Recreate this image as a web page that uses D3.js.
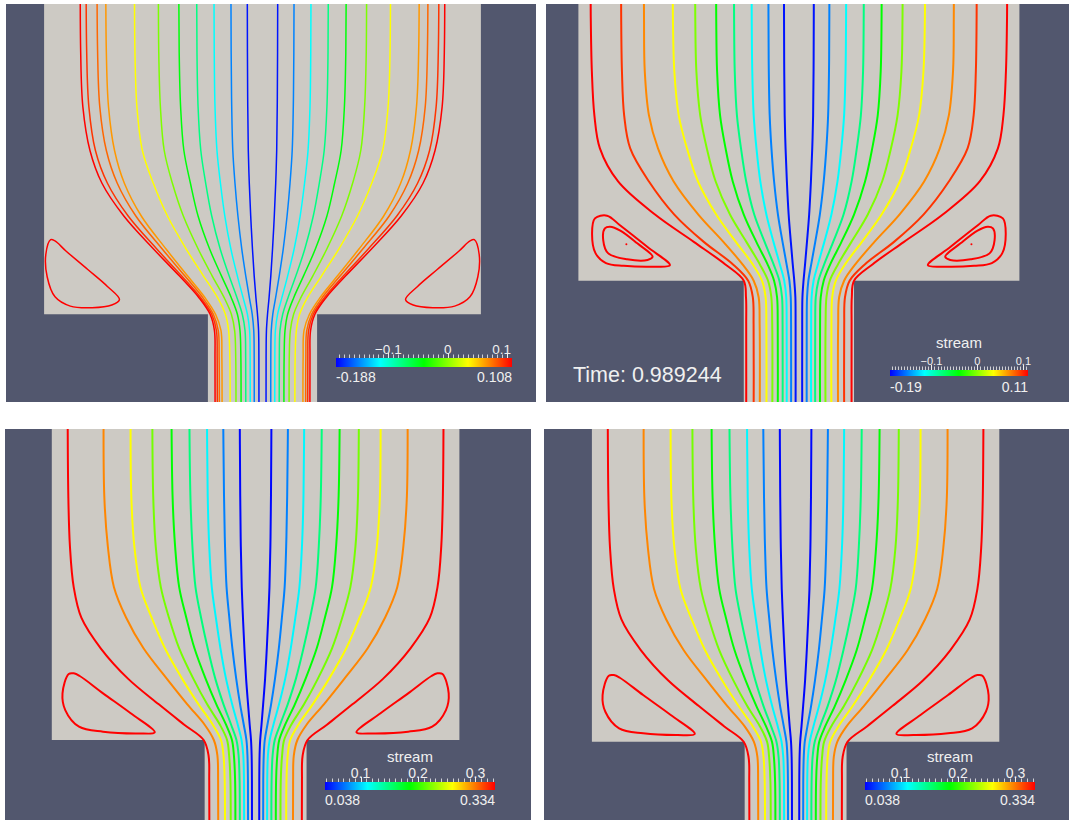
<!DOCTYPE html>
<html>
<head>
<meta charset="utf-8">
<script src="https://cdn.jsdelivr.net/npm/d3@7"></script>
<style>
  body { margin: 0; background: #fff; }
  svg { display: block; }
  text { font-family: "Liberation Sans", Arial, sans-serif; fill: #f0f0f0; }
</style>
</head>
<body>
<script>
// heights where every streamline is sampled (channel widths, 0 = the step)
var levels = [3.5, 2.4, 1.9, 1.5, 1.2, 0.9, 0.6, 0.35, 0.15, 0.0, -0.15, -0.4, -1.4];

// walls of the domain: box 4 wide over a channel 1 wide
var walls = [[-2, 5], [-2, 0], [-0.5, 0], [-0.5, -3], [0.5, -3], [0.5, 0], [2, 0], [2, 5]];

// ---- top left
var streamA = [-0.182, -0.15, -0.114, -0.078, -0.043, -0.004, 0.034, 0.064, 0.078, 0.093, 0.108];
var linesA = [
  [0.14, 0.138, 0.135, 0.13, 0.121, 0.108, 0.092, 0.076, 0.06, 0.046, 0.036, 0.033, 0.033],
  [0.29, 0.287, 0.282, 0.272, 0.252, 0.225, 0.19, 0.153, 0.12, 0.094, 0.08, 0.076, 0.076],
  [0.445, 0.442, 0.435, 0.417, 0.385, 0.345, 0.29, 0.23, 0.177, 0.138, 0.118, 0.113, 0.113],
  [0.603, 0.6, 0.59, 0.565, 0.52, 0.465, 0.388, 0.305, 0.233, 0.185, 0.16, 0.154, 0.154],
  [0.767, 0.763, 0.75, 0.72, 0.66, 0.59, 0.485, 0.375, 0.285, 0.23, 0.206, 0.198, 0.198],
  [0.953, 0.95, 0.935, 0.9, 0.825, 0.725, 0.59, 0.46, 0.35, 0.285, 0.255, 0.245, 0.245],
  [1.172, 1.168, 1.15, 1.1, 1.0, 0.87, 0.7, 0.54, 0.41, 0.34, 0.31, 0.299, 0.299],
  [1.435, 1.43, 1.41, 1.355, 1.265, 1.11, 0.885, 0.685, 0.525, 0.43, 0.38, 0.372, 0.372],
  [1.515, 1.51, 1.49, 1.43, 1.33, 1.16, 0.92, 0.71, 0.545, 0.45, 0.405, 0.397, 0.397],
  [1.615, 1.61, 1.59, 1.53, 1.42, 1.23, 0.97, 0.74, 0.565, 0.465, 0.422, 0.415, 0.415],
  [1.668, 1.665, 1.645, 1.58, 1.47, 1.27, 1.0, 0.76, 0.58, 0.48, 0.44, 0.435, 0.435]
];
var loopsA = [
  [[-1.94, 0.684], [-1.984, 0.55], [-1.972, 0.344], [-1.9, 0.16], [-1.76, 0.075], [-1.56, 0.06],
   [-1.38, 0.085], [-1.31, 0.135], [-1.42, 0.255], [-1.6, 0.41], [-1.8, 0.58], [-1.9, 0.672]]
];
var rangeA = [-0.188, 0.108];
var ticksA = [-0.1, 0, 0.1];

// ---- top right
var streamB = [-0.184, -0.152, -0.115, -0.078, -0.04, -0.003, 0.035, 0.07, 0.095, 0.11];
var linesB = [
  [0.136, 0.135, 0.133, 0.129, 0.121, 0.109, 0.093, 0.073, 0.056, 0.042, 0.032, 0.03, 0.03],
  [0.278, 0.276, 0.273, 0.265, 0.249, 0.225, 0.19, 0.148, 0.112, 0.086, 0.074, 0.071, 0.071],
  [0.43, 0.428, 0.423, 0.41, 0.385, 0.35, 0.295, 0.23, 0.173, 0.133, 0.115, 0.111, 0.111],
  [0.591, 0.588, 0.582, 0.562, 0.525, 0.478, 0.405, 0.31, 0.23, 0.177, 0.153, 0.148, 0.148],
  [0.753, 0.75, 0.742, 0.715, 0.665, 0.6, 0.5, 0.385, 0.285, 0.225, 0.198, 0.192, 0.192],
  [0.943, 0.94, 0.93, 0.895, 0.835, 0.755, 0.625, 0.475, 0.355, 0.28, 0.25, 0.242, 0.242],
  [1.147, 1.143, 1.13, 1.09, 1.015, 0.915, 0.75, 0.57, 0.42, 0.335, 0.302, 0.295, 0.295],
  [1.408, 1.405, 1.398, 1.36, 1.278, 1.136, 0.912, 0.683, 0.513, 0.41, 0.365, 0.356, 0.356],
  [1.614, 1.612, 1.605, 1.585, 1.53, 1.36, 1.13, 0.86, 0.6, 0.46, 0.418, 0.411, 0.411],
  [1.892, 1.888, 1.878, 1.855, 1.805, 1.64, 1.305, 0.95, 0.67, 0.5, 0.48, 0.478, 0.478]
];
var loopsB = [
  [[-1.74, 0.59], [-1.85, 0.565], [-1.876, 0.43], [-1.845, 0.25], [-1.75, 0.16], [-1.589, 0.135],
   [-1.312, 0.127], [-1.17, 0.14], [-1.373, 0.305], [-1.62, 0.5]],
  [[-1.713, 0.49], [-1.76, 0.475], [-1.775, 0.369], [-1.729, 0.248], [-1.558, 0.194], [-1.373, 0.188],
   [-1.327, 0.218], [-1.466, 0.339], [-1.62, 0.455]]
];
var coresB = [[-1.565, 0.33]];
var rangeB = [-0.19, 0.11];
var ticksB = [-0.1, 0, 0.1];

// ---- bottom row (both panels show the same field)
var streamC = [0.04, 0.075, 0.11, 0.15, 0.185, 0.22, 0.26, 0.295, 0.334];
var linesC = [
  [0.157, 0.151, 0.145, 0.136, 0.124, 0.11, 0.093, 0.074, 0.058, 0.045, 0.039, 0.036, 0.036],
  [0.321, 0.31, 0.3, 0.285, 0.258, 0.228, 0.19, 0.152, 0.116, 0.09, 0.08, 0.075, 0.075],
  [0.479, 0.47, 0.455, 0.43, 0.39, 0.345, 0.29, 0.23, 0.175, 0.138, 0.121, 0.114, 0.114],
  [0.652, 0.64, 0.62, 0.59, 0.535, 0.47, 0.395, 0.315, 0.24, 0.188, 0.167, 0.157, 0.157],
  [0.827, 0.815, 0.79, 0.75, 0.68, 0.6, 0.49, 0.385, 0.29, 0.232, 0.213, 0.201, 0.201],
  [1.014, 1.005, 0.98, 0.93, 0.85, 0.75, 0.61, 0.475, 0.35, 0.28, 0.26, 0.247, 0.247],
  [1.226, 1.22, 1.19, 1.13, 1.02, 0.89, 0.72, 0.56, 0.42, 0.34, 0.315, 0.303, 0.303],
  [1.49, 1.485, 1.45, 1.39, 1.27, 1.1, 0.87, 0.67, 0.5, 0.41, 0.375, 0.368, 0.368],
  [1.845, 1.838, 1.822, 1.785, 1.71, 1.52, 1.25, 0.95, 0.7, 0.51, 0.462, 0.455, 0.455]
];
var loopsC = [
  [[-1.834, 0.648], [-1.895, 0.458], [-1.868, 0.294], [-1.733, 0.131], [-1.497, 0.082], [-1.159, 0.065],
   [-0.99, 0.075], [-1.226, 0.262], [-1.497, 0.458], [-1.726, 0.628], [-1.784, 0.654]]
];
var rangeC = [0.038, 0.334];
var ticksC = [0.1, 0.2, 0.3];

// layout of the four views
var panels = [
  { id: "a", x0: 6, y0: 4, x1: 536, y1: 402, cx: 262.5, stepY: 314.3, s: 109.2, lw: 1.5,
    lines: linesA, stream: streamA, loops: loopsA, cores: [], range: rangeA, ticks: ticksA,
    minor: 0.1 / 12, bar: { x: 336, y: 358, w: 176, h: 9 }, tickSize: 13.5, tickY: 354,
    endY: 381.7, title: null, keepInside: true },
  { id: "b", x0: 546, y0: 4, x1: 1069, y1: 402, cx: 798.9, stepY: 280.7, s: 110.25, lw: 2,
    lines: linesB, stream: streamB, loops: loopsB, cores: coresB, range: rangeB, ticks: ticksB,
    minor: 0.1 / 15, bar: { x: 890, y: 370, w: 138, h: 6 }, tickSize: 11, tickY: 365,
    endY: 391.7, title: 348.3, time: "Time: 0.989244" },
  { id: "c", x0: 5, y0: 429, x1: 531, y1: 820, cx: 255.6, stepY: 740, s: 101.9, lw: 2,
    lines: linesC, stream: streamC, loops: loopsC, cores: [], range: rangeC, ticks: ticksC,
    minor: 0.01, bar: { x: 325, y: 782, w: 170, h: 8 }, tickSize: 14, tickY: 778.3,
    endY: 805, title: 761.7 },
  { id: "d", x0: 544, y0: 429, x1: 1069, y1: 820, cx: 795.6, stepY: 741.7, s: 101.85, lw: 2,
    lines: linesC, stream: streamC, loops: loopsC, cores: [], range: rangeC, ticks: ticksC,
    minor: 0.01, bar: { x: 865, y: 782, w: 170, h: 8 }, tickSize: 14, tickY: 778.3,
    endY: 805, title: 761.7 }
];

var svg = d3.select("body").append("svg")
  .attr("width", 1069)
  .attr("height", 820);
var defs = svg.append("defs");

function hueColor(h) {
  return d3.hsl(h, 1, 0.5).formatHex();
}

panels.forEach(function(p) {
  var x = d3.scaleLinear().domain([0, 1]).range([p.cx, p.cx + p.s]);
  var y = d3.scaleLinear().domain([0, 1]).range([p.stepY, p.stepY - p.s]);
  var hue = d3.scaleLinear().domain(p.range).range([240, 0]).clamp(true);

  defs.append("clipPath").attr("id", "clip-" + p.id)
    .append("rect")
    .attr("x", p.x0).attr("y", p.y0)
    .attr("width", p.x1 - p.x0).attr("height", p.y1 - p.y0);

  var g = svg.append("g");
  g.append("rect")
    .attr("x", p.x0).attr("y", p.y0)
    .attr("width", p.x1 - p.x0).attr("height", p.y1 - p.y0)
    .attr("fill", "#52576e");

  var plot = g.append("g").attr("clip-path", "url(#clip-" + p.id + ")");

  var path = d3.line().x(d => x(d[0])).y(d => y(d[1]));
  plot.append("path")
    .attr("d", path(walls) + "Z")
    .attr("fill", "#cdcac4");

  // streamlines, one on each side of the axis
  var curve = d3.line().x(d => x(d[0])).y(d => y(d[1])).curve(d3.curveCatmullRom.alpha(0.5));
  p.lines.forEach(function(xs, i) {
    [-1, 1].forEach(function(side) {
      plot.append("path")
        .attr("d", curve(levels.map((lv, j) => [side * xs[j], lv])))
        .attr("fill", "none")
        .attr("stroke", hueColor(hue(p.stream[i])))
        .attr("stroke-width", p.lw);
    });
  });

  // recirculation loops in the corners
  var closed = d3.line().x(d => x(d[0])).y(d => y(d[1])).curve(d3.curveCatmullRomClosed.alpha(0.5));
  var loopColor = hueColor(hue(p.range[1]));
  p.loops.forEach(function(loop) {
    [1, -1].forEach(function(side) {
      plot.append("path")
        .attr("d", closed(loop.map(d => [side * d[0], d[1]])))
        .attr("fill", "none")
        .attr("stroke", loopColor)
        .attr("stroke-width", p.lw);
    });
  });
  p.cores.forEach(function(c) {
    [1, -1].forEach(function(side) {
      plot.append("circle")
        .attr("cx", x(side * c[0])).attr("cy", y(c[1]))
        .attr("r", 1)
        .attr("fill", loopColor);
    });
  });

  // colour bar
  var gradId = "grad-" + p.id;
  var grad = defs.append("linearGradient").attr("id", gradId);
  d3.range(9).forEach(function(k) {
    grad.append("stop")
      .attr("offset", (k / 8 * 100) + "%")
      .attr("stop-color", hueColor(240 - k * 30));
  });
  var b = p.bar;
  var bx = d3.scaleLinear().domain(p.range).range([b.x, b.x + b.w]);
  g.append("rect")
    .attr("x", b.x).attr("y", b.y)
    .attr("width", b.w).attr("height", b.h)
    .attr("fill", "url(#" + gradId + ")");

  var minor = d3.range(Math.ceil(p.range[0] / p.minor), Math.floor(p.range[1] / p.minor) + 1)
    .map(k => k * p.minor);
  g.selectAll(null).data(minor).enter().append("line")
    .attr("x1", d => Math.round(bx(d)) + 0.5).attr("x2", d => Math.round(bx(d)) + 0.5)
    .attr("y1", b.y - 3.5).attr("y2", b.y)
    .attr("stroke", "#cfd0d6").attr("stroke-width", 1);
  g.selectAll(null).data(p.ticks).enter().append("line")
    .attr("x1", d => Math.round(bx(d)) + 0.5).attr("x2", d => Math.round(bx(d)) + 0.5)
    .attr("y1", b.y - 5).attr("y2", b.y)
    .attr("stroke", "#f0f0f0").attr("stroke-width", 1);

  var tickLabels = g.selectAll(null).data(p.ticks).enter().append("text")
    .attr("x", d => bx(d)).attr("y", p.tickY)
    .attr("text-anchor", "middle")
    .style("font-size", p.tickSize + "px")
    .text(d => d3.format("")(d));
  if (p.keepInside) {
    // last label is pulled back so it ends at the bar's end
    tickLabels.attr("x", function(d) {
      var half = this.getComputedTextLength() / 2;
      return Math.min(bx(d), b.x + b.w - 1 - half);
    });
  }

  g.append("text")
    .attr("x", b.x).attr("y", p.endY)
    .style("font-size", "14px")
    .text(p.range[0]);
  g.append("text")
    .attr("x", b.x + b.w).attr("y", p.endY)
    .attr("text-anchor", "end")
    .style("font-size", "14px")
    .text(p.range[1]);

  if (p.title) {
    g.append("text")
      .attr("x", b.x + b.w / 2).attr("y", p.title)
      .attr("text-anchor", "middle")
      .style("font-size", "15px")
      .text("stream");
  }
  if (p.time) {
    g.append("text")
      .attr("x", 573).attr("y", 382)
      .style("font-size", "21.5px")
      .text(p.time);
  }
});
</script>
</body>
</html>
